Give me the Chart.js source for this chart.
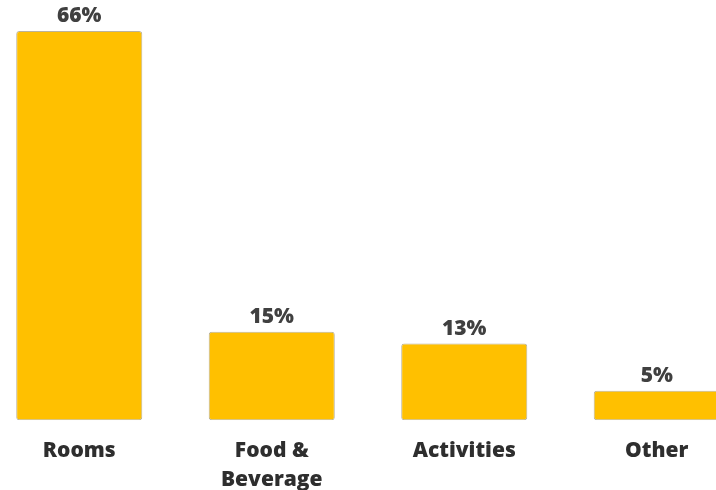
<!DOCTYPE html>
<html>
<head>
<meta charset="utf-8">
<script src="https://cdn.jsdelivr.net/npm/chart.js@4/dist/chart.umd.min.js"></script>
<style>
  html, body { margin: 0; padding: 0; background: #ffffff; }
  #wrap { position: relative; width: 716px; height: 490px; overflow: hidden; }
  #chart { position: absolute; left: -17px; top: 0; }
</style>
</head>
<body>
<div id="wrap"><canvas id="chart" width="770" height="503"></canvas></div>
<script>
// Revenue share by department
const categories = [["Rooms"], ["Food &", "Beverage"], ["Activities"], ["Other"]];
const shares = [66, 15, 13, 5];
const valueLabels = ["66%", "15%", "13%", "5%"];

const FONT = "'Open Sans', 'Liberation Sans', sans-serif";

// Draws the percentage above each bar
const valueLabelPlugin = {
  id: 'valueLabels',
  afterDatasetsDraw(chart) {
    const ctx = chart.ctx;
    const meta = chart.getDatasetMeta(0);
    ctx.save();
    ctx.font = "800 21px " + FONT;
    ctx.fillStyle = '#404040';
    ctx.textAlign = 'center';
    ctx.textBaseline = 'alphabetic';
    meta.data.forEach((bar, i) => {
      ctx.fillText(valueLabels[i], bar.x, bar.y - 9);
    });
    ctx.restore();
  }
};

new Chart(document.getElementById('chart'), {
  type: 'bar',
  data: {
    labels: categories,
    datasets: [{
      data: shares,
      backgroundColor: '#FFC000',
      borderColor: 'rgba(170,160,130,0.8)',
      borderWidth: 1,
      borderRadius: 3,
      borderSkipped: false,
      categoryPercentage: 1,
      barPercentage: 0.655
    }]
  },
  options: {
    responsive: false,
    animation: false,
    devicePixelRatio: 1,
    layout: { padding: { top: 31, left: 0, right: 0, bottom: 0 } },
    plugins: { legend: { display: false }, tooltip: { enabled: false } },
    scales: {
      x: {
        grid: { display: false },
        border: { display: false },
        ticks: {
          color: '#2e2e2e',
          font: { family: FONT, size: 21, weight: '800', lineHeight: 1.35 },
          padding: 9,
          maxRotation: 0,
          autoSkip: false
        }
      },
      y: {
        display: false,
        min: 0,
        max: 66
      }
    }
  },
  plugins: [valueLabelPlugin]
});
</script>
</body>
</html>
